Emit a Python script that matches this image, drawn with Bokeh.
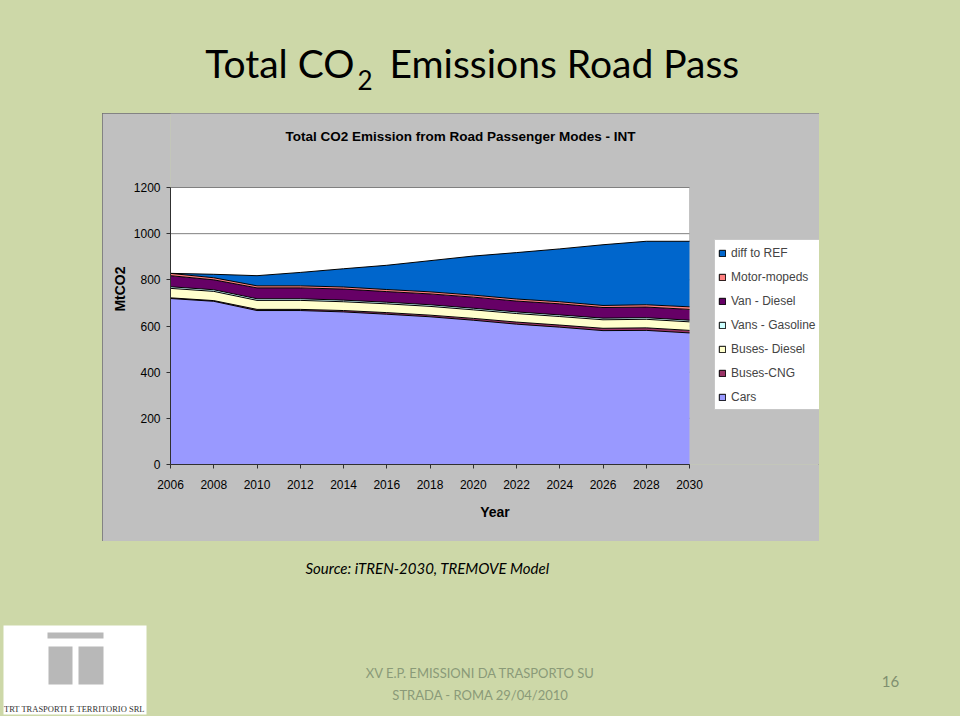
from bokeh.plotting import figure
from bokeh.layouts import column, row
from bokeh.models import (ColumnDataSource, Legend, LegendItem, Label, BoxAnnotation,
                          FixedTicker, Range1d, Spacer)
from bokeh.embed import file_html
from bokeh.resources import INLINE

# ---------------- data ----------------
years = [2006, 2008, 2010, 2012, 2014, 2016, 2018, 2020, 2022, 2024, 2026, 2028, 2030]
cars = [719, 707, 667, 667, 661, 651, 640, 625, 608, 595, 580, 581, 570]
buses_cng = [3, 3, 5, 5, 6, 7, 7, 8, 9, 9, 10, 11, 11]
buses_diesel = [41, 40, 39, 39, 38, 38, 38, 37, 37, 37, 37, 37, 37]
vans_gasoline = [7, 7, 7, 7, 7, 7, 7, 7, 7, 7, 7, 7, 7]
van_diesel = [48, 43, 47, 47, 48, 46, 47, 48, 47, 48, 46, 46, 47]
motor_mopeds = [10, 9, 9, 9, 9, 9, 9, 9, 9, 9, 9, 10, 11]
diff_to_ref = [0, 15, 44, 58, 79, 105, 135, 169, 201, 229, 263, 275, 284]

series_names = ["Cars", "Buses-CNG", "Buses- Diesel", "Vans - Gasoline",
                "Van - Diesel", "Motor-mopeds", "diff to REF"]
series_colors = ["#9999FF", "#993366", "#FFFFCC", "#CCFFFF", "#660066", "#FF8080", "#0066CC"]
x_ticks = list(range(2006, 2031, 2))
y_ticks = list(range(0, 1201, 200))

SANS = "Liberation Sans"
GREEN = "#cdd8a8"
NAN = float("nan")

source = ColumnDataSource(dict(
    year=years,
    **{"Cars": cars, "Buses-CNG": buses_cng, "Buses- Diesel": buses_diesel,
       "Vans - Gasoline": vans_gasoline, "Van - Diesel": van_diesel,
       "Motor-mopeds": motor_mopeds, "diff to REF": diff_to_ref}))

# ---------------- chart (gray chart area) ----------------
CW, CH = 717, 428
BL, BB = 68, 77                  # left / bottom panels for the axes
PLOT_W, PLOT_H = 519, 277        # plot area in pixels
frame_w, frame_h = CW - BL, CH - BB
x0, x1 = x_ticks[0], x_ticks[-1]
y0, y1 = y_ticks[0], y_ticks[-1]
x_end = x0 + (x1 - x0) * frame_w / PLOT_W      # extra room on the right for the legend
y_end = y0 + (y1 - y0) * frame_h / PLOT_H      # extra room on top for the title

p = figure(width=CW, height=CH, output_backend="svg", toolbar_location=None,
           x_range=Range1d(x0, x_end), y_range=Range1d(y0, y_end),
           min_border_left=BL, min_border_bottom=BB, min_border_top=0,
           min_border_right=0, title=None)
p.border_fill_color = "#c0c0c0"
p.background_fill_color = "#c0c0c0"
p.outline_line_color = None
p.styles = {"outline": "1px solid #6f6f6f", "outline-offset": "-1px"}
p.xgrid.visible = False
p.ygrid.visible = False

# white plot area
p.add_layout(BoxAnnotation(left=x0, right=x1, bottom=y0, top=y1, fill_color="white",
                           fill_alpha=1.0, line_color="#808080", line_width=1,
                           level="underlay"))
# grid lines
p.segment(x0=[x0] * len(y_ticks), x1=[x1] * len(y_ticks), y0=y_ticks, y1=y_ticks,
          line_color="#808080", line_width=1)

# stacked areas with black outlines
areas = p.varea_stack(stackers=series_names, x="year", color=series_colors, source=source)
p.vline_stack(stackers=series_names, x="year", color="black", line_width=1, source=source)

# axes
p.xaxis.ticker = FixedTicker(ticks=x_ticks)
p.yaxis.ticker = FixedTicker(ticks=y_ticks)
p.xaxis.bounds = (x0, x1)
p.yaxis.bounds = (y0, y1)
for ax in (p.xaxis[0], p.yaxis[0]):
    ax.axis_line_color = "#303030"
    ax.major_tick_line_color = "#303030"
    ax.major_tick_out = 4
    ax.major_tick_in = 0
    ax.minor_tick_line_color = None
    ax.major_label_text_font = SANS
    ax.major_label_text_font_size = "12px"
    ax.major_label_text_color = "black"
    ax.axis_label_text_font = SANS
    ax.axis_label_text_font_style = "bold"
    ax.axis_label_text_color = "black"
p.yaxis.axis_label = "MtCO2"
p.yaxis.axis_label_text_font_size = "14px"
p.yaxis.major_label_standoff = 6
p.yaxis.axis_label_standoff = 3
p.xaxis.axis_label = "Year"
p.xaxis.axis_label_text_font_size = "14px"
p.xaxis.major_label_standoff = 11
p.xaxis.axis_label_standoff = 12

# chart title (screen units: relative to frame bottom-left)
p.add_layout(Label(x=290, y=328, x_units="screen", y_units="screen",
                   text="Total CO2 Emission from Road Passenger Modes - INT",
                   text_font=SANS, text_font_size="13.5px", text_font_style="bold",
                   text_align="center", text_baseline="middle", text_color="black"))

# legend (items top -> bottom), squares with black outline
items = []
for name, col in reversed(list(zip(series_names, series_colors))):
    sq = p.quad(left=[NAN], right=[NAN], top=[NAN], bottom=[NAN],
                fill_color=col, line_color="black", line_width=1)
    items.append(LegendItem(label=name, renderers=[sq]))
legend = Legend(items=items, location=(544, 54), orientation="vertical",
                label_text_font=SANS, label_text_font_size="12px",
                label_height=19, glyph_height=8, glyph_width=8, spacing=5,
                padding=3, margin=0, label_standoff=5,
                background_fill_color="white", background_fill_alpha=1.0,
                border_line_color="#909090", border_line_width=1)
p.add_layout(legend, "center")


# ---------------- slide decoration figures (data units = page pixels) ----------------
def deco(w, top, bottom):
    f = figure(width=w, height=bottom - top, output_backend="svg", toolbar_location=None,
               x_range=Range1d(0, w), y_range=Range1d(bottom, top),
               x_axis_type=None, y_axis_type=None, min_border=0, title=None)
    f.border_fill_color = GREEN
    f.background_fill_color = GREEN
    f.outline_line_color = None
    f.xgrid.visible = False
    f.ygrid.visible = False
    return f


def lab(f, text, x, y, size, font="Lato", color="black", style="normal", align="left",
        baseline="middle"):
    f.add_layout(Label(x=x, y=y, text=text, text_font=font, text_font_size=size,
                       text_color=color, text_font_style=style, text_align=align,
                       text_baseline=baseline))


top = deco(960, 0, 113)
lab(top, "Total CO", 354, 62, "39px", align="right")
lab(top, "2", 357, 79, "26px")
lab(top, "Emissions Road Pass", 389, 62, "39px")

bottom = deco(960, 541, 716)
lab(bottom, "Source: iTREN-2030, TREMOVE Model", 305, 567, "15px", style="italic")
lab(bottom, "XV E.P. EMISSIONI DA TRASPORTO SU", 480, 672, "13px", color="#8a9a78",
    align="center")
lab(bottom, "STRADA - ROMA 29/04/2010", 480, 694, "13px", color="#8a9a78", align="center")
lab(bottom, "16", 890, 681, "15px", color="#7f8f6f", align="center")
# logo
bottom.add_layout(BoxAnnotation(left=3, right=146, top=625, bottom=714, fill_color="white",
                                fill_alpha=1.0, line_alpha=0))
for (l, r, t, b) in [(47, 103, 632, 638), (48, 72, 646, 684), (78, 103, 646, 684)]:
    bottom.add_layout(BoxAnnotation(left=l, right=r, top=t, bottom=b, fill_color="#b8b8b8",
                                    fill_alpha=1.0, line_alpha=0))
lab(bottom, "TRT TRASPORTI E TERRITORIO SRL", 74, 708, "8.5px", font="Liberation Serif",
    color="#333333", align="center")

layout = column(top,
                row(Spacer(width=102, height=CH), p, Spacer(width=141, height=CH),
                    spacing=0),
                bottom, spacing=0)

html = file_html(layout, INLINE)
html = html.replace("<head>", "<head><style>html,body{background:#cdd8a8;}</style>", 1)
open("out.html", "w").write(html)
